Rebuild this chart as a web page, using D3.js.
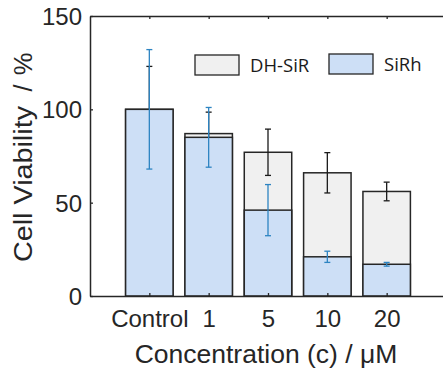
<!DOCTYPE html>
<html><head><meta charset="utf-8">
<script src="https://cdn.jsdelivr.net/npm/d3@7"></script>
<style>body{margin:0;background:#fff}svg{display:block}text{white-space:pre}</style>
</head><body>
<svg id="c" width="443" height="371"></svg>
<script>
const categories = ["Control", "1", "5", "10", "20"];
const dhSiR = [100, 87, 77, 66, 56];
const dhSiRErr = [23, 11.5, 12.4, 10.8, 5];
const siRh = [100, 85, 46, 21, 17];
const siRhErr = [32, 16, 13.7, 3, 1];
const yTicks = [0, 50, 100, 150];
const legendLabels = ["DH-SiR", "SiRh"];

(function () {
const svg = d3.select("#c");
const L = 90, R = 446, T = 16, B = 296;
const x = d3.scaleLinear().domain([0, categories.length + 1]).range([L, R]);
const y = d3.scaleLinear().domain([0, 150]).range([B, T]);
const bw = (x(1) - x(0)) * 0.8;
const gray = "#f0f0f0", blue = "#cddff6", eblue = "#2d84c2", edge = "#262626";
const tickFont = "Liberation Sans, Arial, sans-serif";

const idx = categories.map((d, i) => i);
svg.append("g").selectAll("rect").data(idx).join("rect")
  .attr("x", i => x(i + 1) - bw / 2).attr("width", bw)
  .attr("y", i => y(dhSiR[i])).attr("height", i => y(0) - y(dhSiR[i]))
  .attr("fill", gray).attr("stroke", edge).attr("stroke-width", 1.5);

function errBars(vals, errs, color) {
  const g = svg.append("g").attr("stroke", color).attr("stroke-width", 1.3).attr("fill", "none");
  idx.forEach(i => {
    const cx = x(i + 1), hi = y(vals[i] + errs[i]), lo = y(vals[i] - errs[i]);
    g.append("line").attr("x1", cx).attr("x2", cx).attr("y1", hi).attr("y2", lo);
    g.append("line").attr("x1", cx - 3).attr("x2", cx + 3).attr("y1", hi).attr("y2", hi);
    g.append("line").attr("x1", cx - 3).attr("x2", cx + 3).attr("y1", lo).attr("y2", lo);
  });
}
errBars(dhSiR, dhSiRErr, "#1a1a1a");

svg.append("g").selectAll("rect").data(idx).join("rect")
  .attr("x", i => x(i + 1) - bw / 2).attr("width", bw)
  .attr("y", i => y(siRh[i])).attr("height", i => y(0) - y(siRh[i]))
  .attr("fill", blue).attr("stroke", edge).attr("stroke-width", 1.5);
errBars(siRh, siRhErr, eblue);

const axCol = "#262626";
const gB = svg.append("g").attr("transform", `translate(0,${B})`)
  .call(d3.axisBottom(x).tickValues(idx.map(i => i + 1)).tickFormat(v => categories[v - 1]).tickSizeInner(-3).tickSizeOuter(0).tickPadding(14));
const gT = svg.append("g").attr("transform", `translate(0,${T})`)
  .call(d3.axisTop(x).tickValues(idx.map(i => i + 1)).tickFormat("").tickSizeInner(-3).tickSizeOuter(0));
const gL = svg.append("g").attr("transform", `translate(${L},0)`)
  .call(d3.axisLeft(y).tickValues(yTicks).tickSizeInner(-3).tickSizeOuter(0).tickPadding(8));
const gR = svg.append("g").attr("transform", `translate(${R},0)`)
  .call(d3.axisRight(y).tickValues(yTicks).tickFormat("").tickSizeInner(-3).tickSizeOuter(0));
[gB, gT, gL, gR].forEach(g => {
  g.selectAll("path.domain").attr("stroke", axCol).attr("stroke-width", 1.5);
  g.selectAll(".tick line").attr("stroke", axCol).attr("stroke-width", 1.3);
  g.selectAll("text").attr("fill", "#262626").style("font-family", tickFont).style("font-size", "24px");
});
gL.selectAll("text").attr("dy", "0.36em");
gB.selectAll("text").attr("dy", "0.71em");

svg.append("text").attr("x", 266).attr("y", 363).attr("text-anchor", "middle")
  .style("font-family", tickFont).style("font-size", "26.5px").attr("fill", "#262626")
  .text("Concentration (c) / μM");

const yl = svg.append("text").attr("transform", "translate(32,0) rotate(-90)")
  .style("font-family", tickFont).style("font-size", "25.5px").attr("fill", "#262626");
yl.append("tspan").attr("x", -262).attr("textLength", 156).attr("lengthAdjust", "spacingAndGlyphs").text("Cell Viability");
yl.append("tspan").attr("x", -88).attr("text-anchor", "middle").text("/");
yl.append("tspan").attr("x", -64).attr("text-anchor", "middle").text("%");

const leg = [{x: 195, y: 55, fill: gray, label: legendLabels[0]}, {x: 329, y: 54, fill: blue, label: legendLabels[1]}];
leg.forEach(d => {
  svg.append("rect").attr("x", d.x).attr("y", d.y).attr("width", 44).attr("height", 20)
    .attr("fill", d.fill).attr("stroke", edge).attr("stroke-width", 1.3);
  svg.append("text").attr("x", d.x + 55).attr("y", d.y + 16.5)
    .style("font-family", "Open Sans, sans-serif").style("font-size", "18.5px").attr("fill", "#1a1a1a")
    .text(d.label);
});
})();
</script>
</body></html>
